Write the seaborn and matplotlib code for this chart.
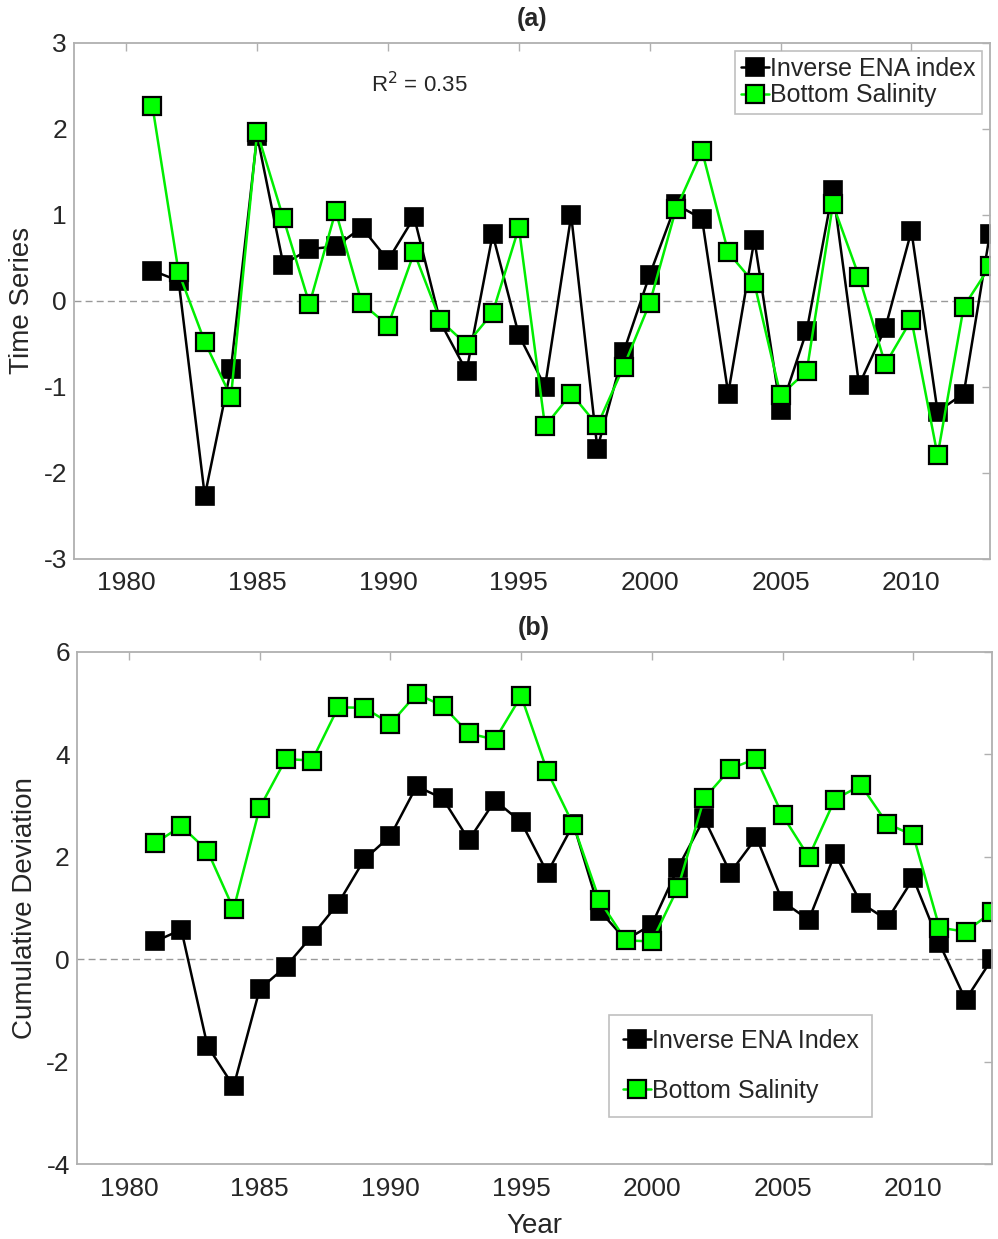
import numpy as np
import pandas as pd
import seaborn as sns
import matplotlib
matplotlib.use("Agg")
import matplotlib.pyplot as plt

# Datos
years = list(range(1981, 2014))

ena_ts = [0.35, 0.23, -2.27, -0.79, 1.92, 0.42, 0.60, 0.63, 0.85, 0.47,
          0.97, -0.25, -0.82, 0.77, -0.40, -1.00, 0.99, -1.72, -0.60, 0.30,
          1.12, 0.95, -1.08, 0.71, -1.27, -0.35, 1.29, -0.98, -0.32, 0.81,
          -1.29, -1.08, 0.78]
sal_ts = [2.26, 0.33, -0.48, -1.12, 1.96, 0.96, -0.04, 1.04, -0.03, -0.29,
          0.56, -0.23, -0.51, -0.14, 0.85, -1.46, -1.08, -1.45, -0.77, -0.03,
          1.06, 1.74, 0.56, 0.20, -1.10, -0.82, 1.12, 0.28, -0.74, -0.22,
          -1.80, -0.07, 0.40]

ena_cum = [0.35, 0.58, -1.69, -2.48, -0.58, -0.14, 0.46, 1.09, 1.95, 2.41,
           3.38, 3.14, 2.33, 3.10, 2.68, 1.69, 2.64, 0.95, 0.38, 0.68,
           1.79, 2.75, 1.69, 2.38, 1.13, 0.77, 2.06, 1.10, 0.77, 1.58,
           0.31, -0.79, 0.00]
sal_cum = [2.27, 2.60, 2.12, 0.98, 2.96, 3.91, 3.88, 4.92, 4.91, 4.60,
           5.18, 4.95, 4.41, 4.29, 5.14, 3.67, 2.62, 1.15, 0.37, 0.35,
           1.40, 3.14, 3.72, 3.92, 2.81, 2.00, 3.12, 3.40, 2.65, 2.42,
           0.62, 0.54, 0.92]

xticks = [1980, 1985, 1990, 1995, 2000, 2005, 2010]

sns.set_style("white")
plt.rcParams['font.family'] = ['Liberation Sans', 'DejaVu Sans']
plt.rcParams['axes.unicode_minus'] = False

verde = '#00ee00'
verde_marca = '#00ff00'
gris = '#b0b0b0'
texto = '#262626'


def dibujar(ax, serie_negra, serie_verde, etiquetas):
    # línea negra
    sns.lineplot(x=years, y=serie_negra, ax=ax, color='black', lw=1.8,
                 marker='s', markersize=13, markerfacecolor='black',
                 markeredgecolor='black', markeredgewidth=1.2,
                 label=etiquetas[0])
    # línea verde
    sns.lineplot(x=years, y=serie_verde, ax=ax, color=verde, lw=1.8,
                 marker='s', markersize=13, markerfacecolor=verde_marca,
                 markeredgecolor='black', markeredgewidth=1.6,
                 label=etiquetas[1])
    ax.axhline(0, color='#999999', ls='--', lw=1, dashes=(5, 3), zorder=0)
    ax.set_xlim(1978, 2013)
    ax.set_xticks(xticks)
    for s in ax.spines.values():
        s.set_color(gris)
        s.set_linewidth(1.3)
    ax.tick_params(direction='in', length=6, width=1, color=gris,
                   top=True, right=True, labelsize=19, labelcolor=texto)
    ax.tick_params(axis='x', pad=9)
    ax.tick_params(axis='y', pad=5)


fig = plt.figure(figsize=(9.98, 12.39), dpi=100)
ax1 = fig.add_axes([0.0741, 0.5491, 0.9178, 0.4165])
ax2 = fig.add_axes([0.0769, 0.0603, 0.9168, 0.4135])

# Panel (a)
dibujar(ax1, ena_ts, sal_ts, ['Inverse ENA index', 'Bottom Salinity'])
ax1.set_ylim(-3, 3)
ax1.set_yticks(range(-3, 4))
ax1.set_ylabel('Time Series', fontsize=20, color=texto, labelpad=6)
ax1.set_title('(a)', fontsize=18, fontweight='bold', pad=12)
ax1.text(1989.34, 2.51, r'R$^2$ = 0.35', fontsize=16, color=texto,
         va='center')
leg1 = ax1.legend(loc='upper right', fontsize=18, handlelength=1.1,
                  handletextpad=0.05, borderpad=0.25, labelspacing=0.1,
                  fancybox=False, frameon=True, borderaxespad=0.32)
leg1.get_frame().set_edgecolor(gris)
leg1.get_frame().set_linewidth(1.2)

# Panel (b)
dibujar(ax2, ena_cum, sal_cum, ['Inverse ENA Index', 'Bottom Salinity'])
ax2.set_ylim(-4, 6)
ax2.set_yticks(range(-4, 7, 2))
ax2.set_ylabel('Cumulative Deviation', fontsize=20, color=texto, labelpad=6)
ax2.set_xlabel('Year', fontsize=20, color=texto, labelpad=9)
ax2.set_title('(b)', fontsize=18, fontweight='bold', pad=12)
leg2 = ax2.legend(loc='upper left', bbox_to_anchor=(0.582, 0.2914),
                  fontsize=18, handlelength=1.1, handletextpad=0.05,
                  borderpad=0.55, labelspacing=1.05, fancybox=False,
                  frameon=True, borderaxespad=0)
leg2.get_frame().set_edgecolor(gris)
leg2.get_frame().set_linewidth(1.2)

fig.savefig('out.png', dpi=100)
